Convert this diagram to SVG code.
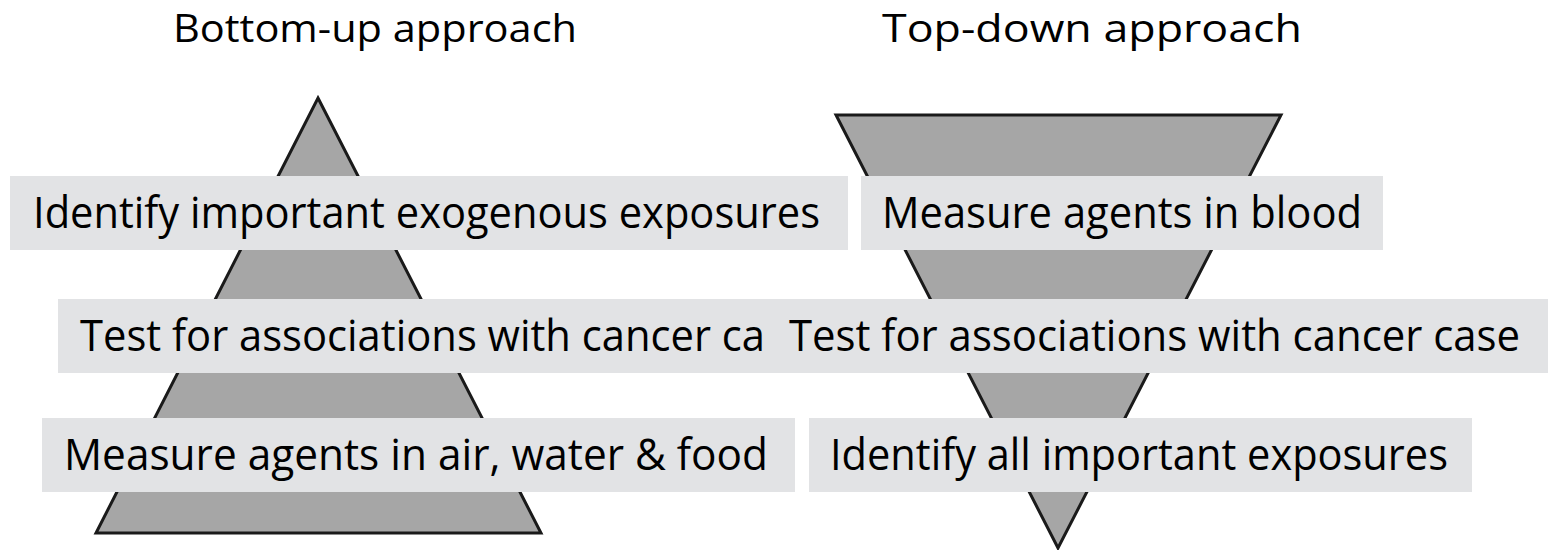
<svg xmlns="http://www.w3.org/2000/svg" width="1548" height="550" viewBox="0 0 1548 550">
  <style>
    .tri { fill: #a6a6a6; stroke: #1a1a1a; stroke-width: 3; stroke-linejoin: miter; }
    .box { fill: #e2e3e5; }
    .lbl { font-family: "Open Sans", "Noto Sans", sans-serif; font-size: 44px; fill: #000; }
    .title { font-family: "Open Sans", "Noto Sans", sans-serif; font-size: 39px; fill: #000; }
  </style>
  <rect width="1548" height="550" fill="#ffffff"/>
  <g id="title-bottom-up"><text class="title" x="173" y="42" textLength="404" lengthAdjust="spacingAndGlyphs">Bottom-up approach</text></g>
  <g id="title-top-down"><text class="title" x="882" y="42" textLength="420" lengthAdjust="spacingAndGlyphs">Top-down approach</text></g>
  <g id="pyramid-up"><polygon class="tri" points="318,98 541,533 96,533"/></g>
  <g id="pyramid-down"><polygon class="tri" points="836,115 1281,115 1058,548"/></g>
  <g id="connectors"></g>
  <g id="node-identify-exogenous">
    <rect class="box" x="10" y="176" width="838" height="74"/>
    <text class="lbl" x="33" y="228" textLength="787" lengthAdjust="spacingAndGlyphs">Identify important exogenous exposures</text>
  </g>
  <g id="node-measure-blood">
    <rect class="box" x="861" y="176" width="522" height="74"/>
    <text class="lbl" x="882" y="228" textLength="480" lengthAdjust="spacingAndGlyphs">Measure agents in blood</text>
  </g>
  <g id="node-test-left">
    <rect class="box" x="58" y="299" width="712" height="74"/>
    <text class="lbl" x="80" y="351" textLength="685" lengthAdjust="spacingAndGlyphs">Test for associations with cancer ca</text>
  </g>
  <g id="node-test-right">
    <rect class="box" x="768" y="299" width="780" height="74"/>
    <text class="lbl" x="789" y="351" textLength="731" lengthAdjust="spacingAndGlyphs">Test for associations with cancer case</text>
  </g>
  <g id="node-measure-air">
    <rect class="box" x="42" y="418" width="753" height="74"/>
    <text class="lbl" x="64" y="470" textLength="704" lengthAdjust="spacingAndGlyphs">Measure agents in air, water &amp; food</text>
  </g>
  <g id="node-identify-all">
    <rect class="box" x="809" y="418" width="663" height="74"/>
    <text class="lbl" x="830" y="470" textLength="618" lengthAdjust="spacingAndGlyphs">Identify all important exposures</text>
  </g>
</svg>
